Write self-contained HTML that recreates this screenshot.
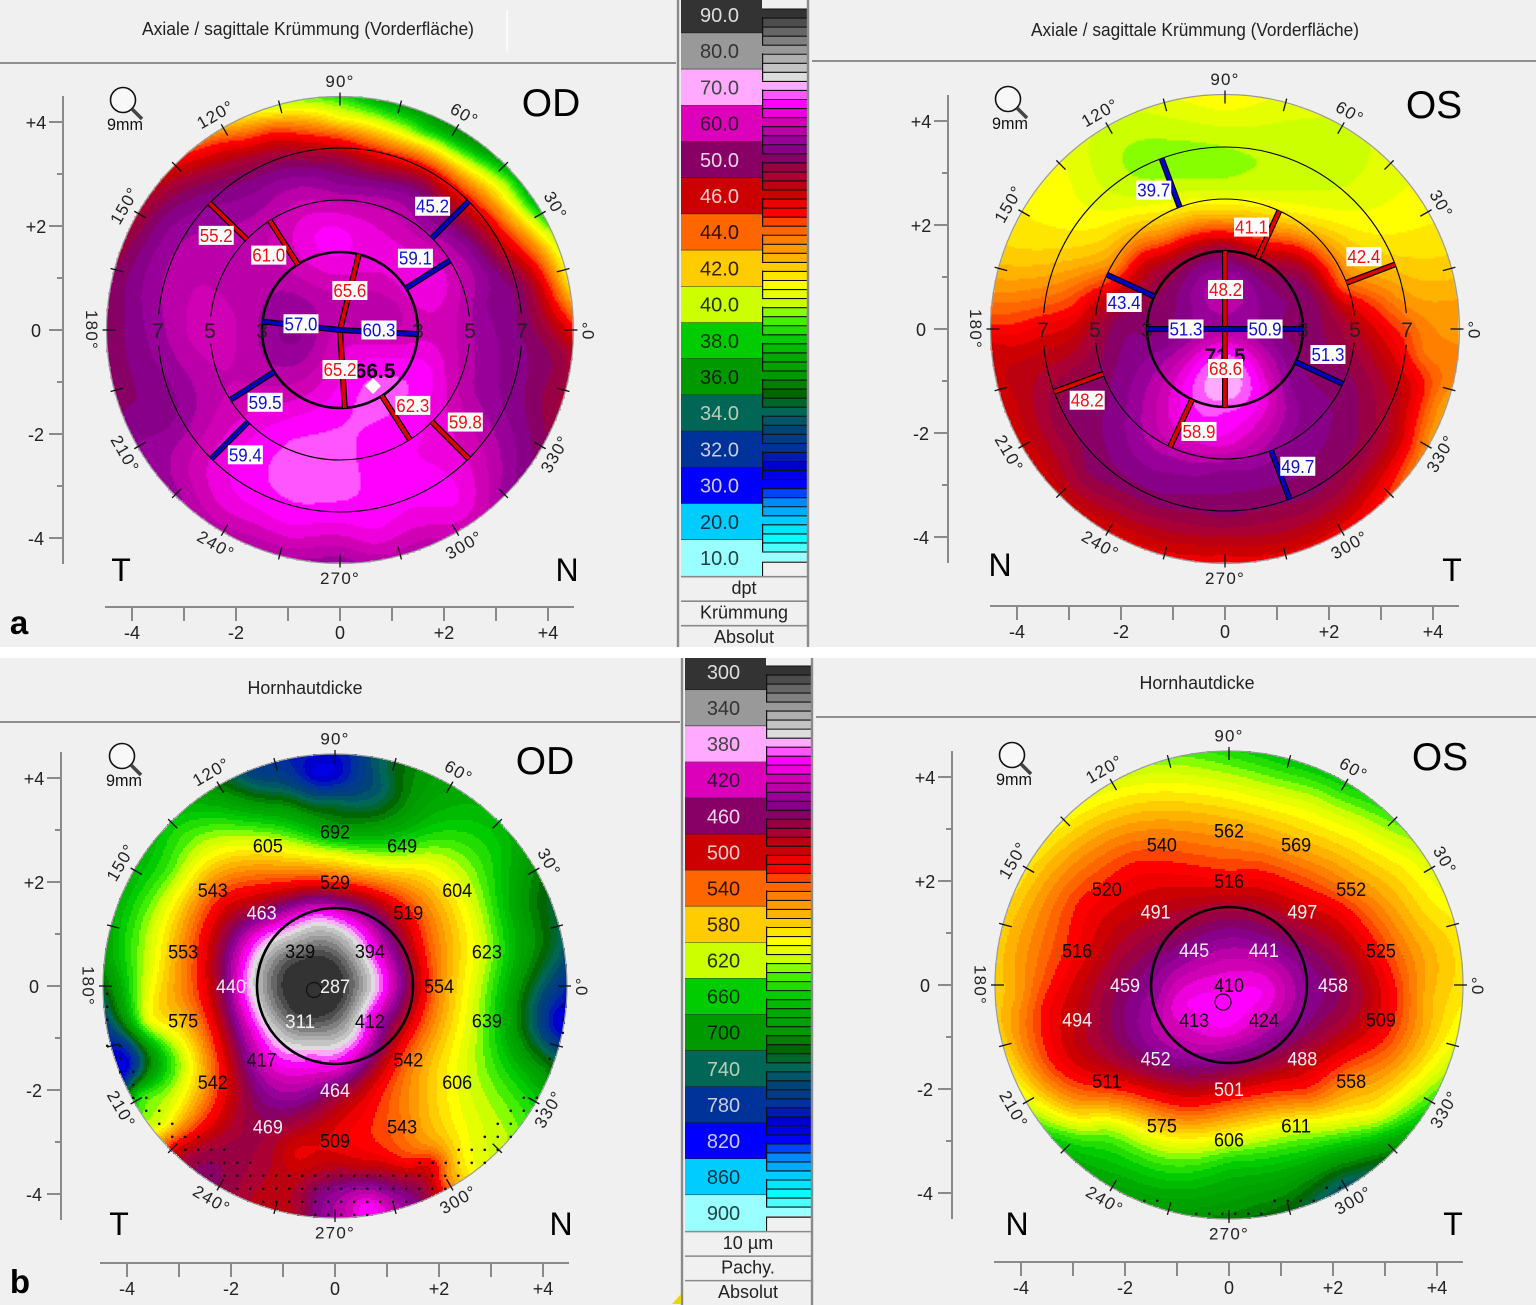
<!DOCTYPE html>
<html lang="de">
<head>
<meta charset="utf-8">
<title>Corneal topography</title>
<style>
html,body{margin:0;padding:0;background:#fff;}
body{width:1536px;height:1305px;overflow:hidden;}
svg{display:block;}
text{font-family:"Liberation Sans",sans-serif;}
</style>
</head>
<body>
<svg id="root" xmlns="http://www.w3.org/2000/svg" width="1536" height="1305" viewBox="0 0 1536 1305">
  <rect x="0" y="0" width="1536" height="1305" fill="#ffffff"/>
  <rect x="0" y="0" width="1536" height="647" fill="#f0f0f0"/>
  <rect x="0" y="658" width="1536" height="647" fill="#f0f0f0"/>
  <line x1="0" y1="63" x2="677" y2="63" stroke="#8f8f8f" stroke-width="2"/>
  <line x1="812" y1="61" x2="1536" y2="61" stroke="#8f8f8f" stroke-width="2"/>
  <line x1="0" y1="722" x2="681" y2="722" stroke="#8f8f8f" stroke-width="2"/>
  <line x1="816" y1="717" x2="1536" y2="717" stroke="#8f8f8f" stroke-width="2"/>
  <line x1="507" y1="10" x2="507" y2="52" stroke="#fafafa" stroke-width="2"/>
  <text x="308" y="35" text-anchor="middle" font-size="18" textLength="332" lengthAdjust="spacingAndGlyphs" fill="#222">Axiale / sagittale Krümmung (Vorderfläche)</text>
  <text x="1195" y="36" text-anchor="middle" font-size="18" textLength="328" lengthAdjust="spacingAndGlyphs" fill="#222">Axiale / sagittale Krümmung (Vorderfläche)</text>
  <text x="305" y="694" text-anchor="middle" font-size="18" textLength="115" lengthAdjust="spacingAndGlyphs" fill="#222">Hornhautdicke</text>
  <text x="1197" y="689" text-anchor="middle" font-size="18" textLength="115" lengthAdjust="spacingAndGlyphs" fill="#222">Hornhautdicke</text>
  <g id="maps"></g>
  <g id="legends"></g>
  <g fill="#000">
    <text x="551" y="116" text-anchor="middle" font-size="39">OD</text>
    <text x="1434" y="118" text-anchor="middle" font-size="39">OS</text>
    <text x="545" y="774" text-anchor="middle" font-size="39">OD</text>
    <text x="1440" y="770" text-anchor="middle" font-size="39">OS</text>
    <text x="121" y="581" text-anchor="middle" font-size="32">T</text>
    <text x="567" y="581" text-anchor="middle" font-size="32">N</text>
    <text x="1000" y="576" text-anchor="middle" font-size="32">N</text>
    <text x="1452" y="581" text-anchor="middle" font-size="32">T</text>
    <text x="119" y="1235" text-anchor="middle" font-size="32">T</text>
    <text x="561" y="1235" text-anchor="middle" font-size="32">N</text>
    <text x="1017" y="1235" text-anchor="middle" font-size="32">N</text>
    <text x="1453" y="1235" text-anchor="middle" font-size="32">T</text>
    <text x="19" y="634" text-anchor="middle" font-size="33" font-weight="bold">a</text>
    <text x="20" y="1293" text-anchor="middle" font-size="33" font-weight="bold">b</text>
  </g>
  <polygon points="672,1304 681,1304 681,1294" fill="#e8d800"/>
</svg>

<script>
/* ---------- shared palette and legend data ---------- */
const paletteStops = [300,340,360,370,380,390,400,410,420,430,440,450,460,470,480,490,500,510,520,530,540,560,580,600,620,630,640,660,680,700,720,740,760,780,800,820,840,860,880,900];
const paletteColors = ["#333333","#999999","#c4c4c4","#dddddd","#ffaaff","#ff55ff","#ff00ff","#ee00dd","#d000b4","#bb00aa","#990099","#880088","#880066","#990044","#aa0033","#bb0011","#cc0000","#ee0000","#ff0000","#ff4400","#ff6600","#ff9900","#ffcc00","#ffff00","#ccff00","#88ff00","#44ee00","#00cc00","#00aa00","#009900","#006600","#006655","#004477","#003399","#0000cc","#0000ff","#0088ff","#00ccff","#00ffff","#99ffff"];
const curvatureTicks = ["90.0","80.0","70.0","60.0","50.0","46.0","44.0","42.0","40.0","38.0","36.0","34.0","32.0","30.0","20.0","10.0"];
const thicknessTicks = ["300","340","380","420","460","500","540","580","620","660","700","740","780","820","860","900"];
const legendBlockColors = ["#333333","#999999","#ffaaff","#dd00bb","#880066","#cc0000","#ff6600","#ffcc00","#ccff00","#00cc00","#009900","#006655","#003399","#0000ff","#00ccff","#99ffff"];
const legendTextColors = ["#ddd","#333","#444","#301030","#e8d8e8","#eecccc","#301000","#332200","#223300","#003300","#002200","#bbccbb","#ccd","#ccd","#003344","#224444"];
const curvatureFooter = ["dpt","Krümmung","Absolut"];
const thicknessFooter = ["10 µm","Pachy.","Absolut"];

/* ---------- axis and angle data ---------- */
const axisTicksMm = [-4,-3,-2,-1,0,1,2,3,4];
const axisLabelsH = {"-4":"-4","-2":"-2","0":"0","2":"+2","4":"+4"};
const degreeAngles = [90,120,150,180,210,240,270,300,330,0,30,60];
const ringDiameters = [3,5,7];

/* ---------- pachymetry printed grid (mm positions on the cornea, shared) ---------- */
const pachyGridX = [0,-0.67,0.67,-0.67,0.67,-2,-1.41,0,1.41,2,1.41,0,-1.41,0,1.29,2.35,2.92,2.92,2.35,1.29,0,-1.29,-2.35,-2.92,-2.92,-2.35,-1.29];
const pachyGridY = [0,0.67,0.67,-0.67,-0.67,0,1.41,2,1.41,0,-1.41,-2,-1.41,2.97,2.7,1.85,0.66,-0.66,-1.85,-2.7,-2.97,-2.7,-1.85,-0.66,0.66,1.85,2.7];
const pachyOdValues = [287,329,394,311,412,440,463,529,519,554,542,464,417,692,649,604,623,639,606,543,509,469,542,575,553,543,605];
const pachyOsValues = [410,445,441,413,424,459,491,516,497,458,488,501,452,562,569,552,525,509,558,611,606,575,511,494,516,520,540];

/* ---------- extra surface readings [x mm, y mm, µm] ---------- */
const pachyOdSamples = [[-0.35,4.12,815],[-0.35,4.42,790],[0.5,4.4,770],[0.87,4.2,740],[-1,4.3,780],[0,4.09,805],[-1.51,3.99,760],[-2.15,3.71,700],[-3.11,3.13,660],[-4.07,2.04,680],[-4.33,0.56,680],[-4.33,-0.21,720],[-4.13,-1.17,795],[-4.01,-1.49,815],[-4.3,-1.35,790],[-4.1,-1.9,790],[-3.81,-2.06,650],[-3.62,-1.74,700],[-3.17,-1.49,650],[-2.85,-1.49,610],[-3.3,-2.64,615],[-3.11,-3.09,510],[-2.6,-3.41,465],[-1.83,-4.05,480],[-1.19,-3.41,485],[-0.87,-4.37,490],[-0.35,-4.05,450],[0.61,-4.24,392],[0.6,-4.4,400],[0.22,-4.05,430],[0.61,-4.05,420],[1,-4.3,420],[0.25,-4.35,425],[1.38,-4.05,450],[1.89,-3.92,490],[2.15,-3.67,560],[2.53,-3.28,600],[3.17,-2.9,620],[3.81,-2.19,660],[4.13,-1.49,720],[4.33,-0.65,815],[4.45,-0.4,800],[4.29,0.05,770],[4.13,0.76,725],[3.62,1.59,700],[3.3,2.68,670],[2.34,3.32,670],[1.38,3.96,710],[0.87,3.83,750],[0,3.45,725],[-0.87,3.51,710],[-2.15,3.38,670],[-3.62,0.44,620],[-3.62,-0.72,610],[-3.11,-1.17,625],[-3.17,2.23,640],[-2.6,0.44,520],[-2.02,1.59,505],[-0.87,1.91,510],[0,2.49,600],[1.7,2.36,605],[2.66,1.33,610],[2.53,0,600],[-0.42,0,285],[0.13,0,300],[-0.97,0,300],[-0.42,0.55,300],[-0.42,-0.55,300],[-0.03,0.39,300],[-0.81,0.39,300],[-0.03,-0.39,300],[-0.81,-0.39,300],[0.58,0,350],[-1.42,0,350],[-0.42,1,350],[-0.42,-1,350],[0.29,0.71,350],[-1.13,0.71,350],[0.29,-0.71,350],[-1.13,-0.71,350],[0.93,0,390],[-1.77,0,390],[-0.42,1.35,390],[-0.42,-1.35,390],[0.53,0.95,390],[-1.37,0.95,390],[0.53,-0.95,390],[-1.37,-0.95,390],[0,1.59,440],[1.06,0,420],[1.38,0,460],[0,-1.6,410],[-0.74,-2.13,440],[-1.7,-2.13,470],[-1.96,-2.77,480],[-2.15,-2.13,510],[-0.54,-2.77,490],[-0.74,-3.22,510],[0.42,-3.41,500],[1.38,-3.35,525],[1.7,-3.09,555],[1.89,-3.47,500],[0.61,-2.58,520],[0.74,-1.81,500],[1.7,-2.13,570],[1.7,0.76,525],[1.7,-0.85,540]];
const pachyOsSamples = [[0,4.46,650],[-1.04,4.33,630],[-2.32,3.81,610],[-3.28,3.11,600],[-4.05,2.02,590],[-4.37,0.42,575],[-4.4,-0.54,575],[-4.24,-1.51,590],[-3.86,-2.28,612],[-3.28,-2.98,660],[-2.64,-3.62,680],[-1.04,-4.33,695],[0,-4.39,705],[1.21,-4.26,720],[2.17,-3.81,745],[3.13,-3.11,700],[3.9,-2.15,640],[4.35,-1.19,610],[4.47,-0.1,590],[4.35,1.06,590],[3.9,2.15,610],[3.19,3.17,640],[2.23,3.88,660],[1.21,4.33,665],[0,3.75,605],[1.53,3.62,620],[2.49,3.04,610],[3.45,2.34,600],[3.77,1.31,585],[0,-2.47,555],[0,-3.43,660],[0,-4.07,690],[-2.32,-2.79,630],[-2.96,-2.47,580],[1.53,-3.24,660],[3.45,-2.47,640],[2.81,-2.47,600],[-4.05,-0.22,565],[-3.57,-0.42,520],[3.77,-0.22,570],[3.26,-0.22,525],[-1.81,2.28,520],[-2.83,1.57,520],[-3.35,-1.51,520],[-0.78,-2.31,520],[1.53,-2.08,530],[3,-1.06,525],[0.56,2.15,520],[2.17,1.51,520],[-0.14,-0.29,402],[-0.97,-0.35,402],[0.69,-0.16,402],[0,0.42,420],[0,0.8,440],[0,1.31,465],[0.88,-0.22,415],[1.53,0,450],[-1.36,-0.22,440],[0,-1.51,455],[0,-1.19,435],[0,-0.87,405],[-0.27,-0.74,400]];

/* ---------- curvature surface readings [x mm, y mm, dpt] ---------- */
const curvOdSamples = [[-4.17,1.41,49.5],[-3.85,2.24,48],[-3.33,3.01,46],[-2.88,3.46,44.5],[-2.24,3.9,42.5],[-1.6,4.2,41],[-0.96,4.36,40],[-3.53,2.18,50],[-2.88,2.82,49],[-2.24,3.27,47],[-2.24,3.59,45],[-1.73,3.85,43.5],[-1.28,4.2,41],[-1.28,4.04,42.5],[-1.28,3.91,44],[-1.28,3.78,45],[-1.28,3.59,46],[-1.28,3.4,48],[-1.28,3.14,50],[0,4.36,39.5],[0,4.2,40],[0,4.07,41],[0,3.91,42.5],[0,3.78,44],[0,3.62,45.2],[0,3.46,46.5],[0,3.27,49],[0,3.01,51],[0.9,4.3,37.5],[1.6,4.04,37.5],[1.6,3.78,38.5],[1.6,3.62,41],[1.6,3.4,43],[1.6,3.17,45],[1.6,2.95,47.5],[1.6,2.69,50],[2.4,3.6,37],[3.21,3.14,37],[3.21,2.82,39.5],[3.21,2.5,41],[3.21,2.18,43],[3.21,1.73,45],[3.21,1.41,47.5],[3.21,1.03,50],[3.72,2.4,38],[4.1,1.79,40],[3.94,1.79,41],[3.62,1.79,43],[3.24,1.79,45],[2.88,1.79,47.5],[2.5,1.79,50],[4.42,0.83,41.5],[4.26,0.83,43],[4,0.83,45],[3.74,0.83,47.5],[3.42,0.83,50],[4.42,0,45.5],[4.2,0,47],[3.94,0,48.5],[3.6,0,50],[4.47,-0.45,47.5],[4.29,-0.45,48.5],[0,2.76,54],[-1.6,2.44,55],[-2.56,2.12,55],[1.6,2.05,55],[2.88,0.51,53],[3.46,-0.77,52],[4.04,-1.28,49],[3.72,-2.24,51],[3.21,-3.01,55],[-4.29,0,50],[-4.04,-0.13,52],[-4.17,-1.41,51],[-3.4,-1.6,52],[-3.85,-2.18,54],[-3.53,-2.37,55],[-4.04,0.83,52],[-3.53,0,55],[-2.88,-0.13,59],[-2.24,-0.13,60],[-0.96,0.38,54],[-0.83,-0.13,53],[-1.92,1.03,57],[-1.6,0.51,57],[-2.56,1.47,58],[0,0,60],[0.06,1.15,62],[-0.19,1.79,65],[0.64,1.79,62],[1.28,1.79,60],[1.6,0.83,64],[0.32,0.26,57],[0.96,0.32,57],[1.28,-0.13,60],[0.64,-0.45,63],[1.6,-0.77,65],[0.64,-1.09,67],[-0.32,-0.77,60],[-0.64,-1.09,60],[-1.22,-1.28,60],[0,-1.73,66],[-0.96,-2.05,66],[-0.96,-2.69,67],[0,-3.01,67],[0.96,-2.37,64],[1.6,-2.69,64],[2.24,-2.05,61],[2.44,-1.09,57],[2.88,-2.37,58],[2.24,-3.33,64],[0.64,-3.97,63],[-0.96,-3.85,63],[-2.24,-3.33,62],[-2.76,-2.69,60],[0,-4.36,56],[-1.6,-4.23,56],[-3.21,-3.21,55],[1.6,-4.1,58]];
const curvOsSamples = [[0,4.35,41],[-0.96,4.22,40.5],[-2.24,3.71,40],[-3.21,2.81,41],[-3.97,1.78,41.5],[-4.29,0.82,43],[-4.42,0.18,44.5],[-4.42,-0.33,46],[-4.17,-0.14,45.2],[-0.32,3.19,39.5],[0.32,3.26,39.7],[-0.96,2.94,39.7],[-1.6,2.68,40],[-2.56,2.1,41],[-1.92,2.42,40.5],[1.6,3.06,40],[2.88,2.74,40.5],[2.12,3.26,40],[3.53,2.29,41],[4.17,1.14,42],[4.49,0.37,43],[4.49,-0.78,43.5],[4.17,-1.42,43],[3.85,-2.06,43.5],[3.4,-2.71,44.5],[3.4,-2.1,46],[3.1,-2.5,46.5],[2.24,-3.86,45.5],[0,-4.44,45.5],[-2.24,-3.99,45.5],[-3.53,-2.71,46],[-4.17,-1.42,46],[0,2.42,41],[0,2.23,42],[0,1.85,45],[0,1.65,47],[0,1.49,50],[0.6,2.1,42.5],[0.6,1.7,45],[-0.8,2,43],[-0.8,1.6,46],[1,1.9,43],[-1.2,1.75,43.5],[-1.6,1.91,42.5],[-2.05,1.21,43.5],[-1.6,1.27,46],[1.6,1.85,42.5],[1.28,1.46,46],[2.56,0.56,45],[2.24,0.82,44],[3.21,0.82,43],[3.53,0.5,43],[3.53,-0.14,44.5],[3.85,-0.46,43.5],[3.85,-1.1,44.8],[3.53,-1.1,46],[3.08,-1.1,47.5],[2.24,-1.1,50.5],[2.56,-0.33,48],[2.44,0.37,46],[1.92,0.63,48.5],[1.54,1.01,49],[-3.53,0,45.5],[-2.88,0.37,45],[-2.5,0.5,46],[-2.24,0.31,48],[-2.05,0.18,50],[-2.88,-0.46,47.5],[-3.4,-1.42,48.5],[-3.85,-1.42,47],[-3.01,-1.42,50],[0,1.14,52],[0,0.76,60],[-0.96,0.82,50],[0.96,0.82,50],[-1.22,0,50],[1.28,0,50],[0,0,55],[-0.64,-0.14,55],[0.64,-0.14,55],[0,-0.46,67],[0,-1.1,72],[0,-1.55,66],[-0.83,-1.29,64],[0.83,-1.29,62],[-0.64,-1.74,65],[0,-2.19,63],[0.64,-1.94,60],[-1.28,-1.1,58],[-1.92,-1.1,53],[1.28,-1.1,53],[1.92,-1.1,51],[-1.6,-2.06,56],[-2.24,-1.42,51],[-0.96,-2.71,54],[0,-2.71,53],[1.28,-2.38,52],[-2.24,-2.38,51],[-2.56,-2.71,50],[-1.28,-3.22,51],[0,-3.54,50],[-1,-3.7,48.5],[1,-3.7,48.5],[-3,-2.4,48.5],[1.6,-3.03,50.5],[2.44,-2.38,49.5],[2.88,-1.74,48.5],[0,-3.99,47.5],[-2.24,-3.35,48],[2.24,-3.22,48]];
const dptStops = [90,80,70,60,50,46,44,42,40,38,36,34,32,30,20,10];
const dptPositions = [300,340,380,420,460,500,540,580,620,660,700,740,780,820,860,900];

/* ---------- meridian readings: zone radii mm, angle deg, printed value, label offset mm ---------- */
const odMeridianAngles = [76,273.5,173.8,-3,122.7,32.3,212.5,302.5,135.8,45,225,315];
const odMeridianValues = ["65.6","65.2","57.0","60.3","61.0","59.1","59.5","62.3","55.2","45.2","59.4","59.8"];
const osMeridianAngles = [90,270,180,0,65.3,155.3,335,245,110.4,20.8,200.2,290.8];
const osMeridianValues = ["48.2","68.6","51.3","50.9","41.1","43.4","51.3","58.9","39.7","42.4","48.2","49.7"];
const odMeridianKinds = ["red","red","blue","blue","red","blue","blue","red","red","blue","blue","red"];
const osMeridianKinds = ["red","red","blue","blue","red","blue","blue","red","blue","red","red","blue"];
const zoneInner = [0,0,0,0,1.5,1.5,1.5,1.5,2.5,2.5,2.5,2.5];
const zoneOuter = [1.5,1.5,1.5,1.5,2.5,2.5,2.5,2.5,3.5,3.5,3.5,3.5];
const odLabelX = [0.19,0,-0.75,0.75,-1.37,1.45,-1.44,1.4,-2.38,1.78,-1.82,2.41];
const odLabelY = [0.76,-0.76,0.12,0,1.44,1.38,-1.39,-1.45,1.82,2.38,-2.4,-1.77];
const osLabelX = [0.01,0.01,-0.75,0.77,0.51,-1.94,1.98,-0.5,-1.37,2.67,-2.65,1.4];
const osLabelY = [0.76,-0.76,0,0,1.96,0.51,-0.49,-1.97,2.67,1.39,-1.37,-2.64];

/* ---------- maps ---------- */
const mapCentersX = [340,1225,335,1229];
const mapCentersY = [330,329,986,985];
const mapRadii = [233.5,234.5,232,234];
const mapSmoothing = [0.05,0.08,0.06,0.12];
const yAxisOffsets = [277,277,274,277];
const iconOffsets = [0,0,4,0];

const NS = "http://www.w3.org/2000/svg";
const PXMM = 52;
const mapsLayer = document.getElementById("maps");
const legendsLayer = document.getElementById("legends");

function make(tag, parent, attrs){
  const el = document.createElementNS(NS, tag);
  for (const k in attrs) el.setAttribute(k, attrs[k]);
  parent.appendChild(el);
  return el;
}
function hexToRgb(h){ return [parseInt(h.substr(1,2),16),parseInt(h.substr(3,2),16),parseInt(h.substr(5,2),16)]; }
function paletteColor(p){
  if (p <= paletteStops[0]) return paletteColors[0];
  for (let i=1;i<paletteStops.length;i++){
    if (p <= paletteStops[i]){
      const t=(p-paletteStops[i-1])/(paletteStops[i]-paletteStops[i-1]);
      const a=hexToRgb(paletteColors[i-1]), b=hexToRgb(paletteColors[i]);
      return "rgb("+Math.round(a[0]+(b[0]-a[0])*t)+","+Math.round(a[1]+(b[1]-a[1])*t)+","+Math.round(a[2]+(b[2]-a[2])*t)+")";
    }
  }
  return paletteColors[paletteColors.length-1];
}
function dptToPosition(d){
  if (d >= dptStops[0]) return dptPositions[0];
  for (let i=1;i<dptStops.length;i++){
    if (d >= dptStops[i]){
      const t=(dptStops[i-1]-d)/(dptStops[i-1]-dptStops[i]);
      return dptPositions[i-1]+(dptPositions[i]-dptPositions[i-1])*t;
    }
  }
  return dptPositions[dptPositions.length-1];
}

/* thin-plate surface fit through the readings */
function fitSurface(pts, smooth){
  const n=pts.length, m=n+3, A=[];
  for(let i=0;i<m;i++){ A.push(new Float64Array(m+1)); }
  for(let i=0;i<n;i++){
    for(let j=0;j<n;j++){
      const dx=pts[i][0]-pts[j][0], dy=pts[i][1]-pts[j][1], r2=dx*dx+dy*dy;
      A[i][j]= r2>0 ? 0.5*r2*Math.log(r2) : 0;
    }
    A[i][i]=smooth;
    A[i][n]=1;A[i][n+1]=pts[i][0];A[i][n+2]=pts[i][1];
    A[n][i]=1;A[n+1][i]=pts[i][0];A[n+2][i]=pts[i][1];
    A[i][m]=pts[i][2];
  }
  for(let c=0;c<m;c++){
    let p=c;
    for(let r=c+1;r<m;r++) if(Math.abs(A[r][c])>Math.abs(A[p][c])) p=r;
    const tmp=A[c];A[c]=A[p];A[p]=tmp;
    const d=A[c][c]||1e-9;
    for(let r=c+1;r<m;r++){
      const f=A[r][c]/d;
      if(f===0) continue;
      for(let k=c;k<=m;k++) A[r][k]-=f*A[c][k];
    }
  }
  const w=new Float64Array(m);
  for(let r=m-1;r>=0;r--){
    let s=A[r][m];
    for(let k=r+1;k<m;k++) s-=A[r][k]*w[k];
    w[r]=s/(A[r][r]||1e-9);
  }
  return function(x,y){
    let v=w[n]+w[n+1]*x+w[n+2]*y;
    for(let i=0;i<n;i++){
      const dx=x-pts[i][0],dy=y-pts[i][1],r2=dx*dx+dy*dy;
      if(r2>0) v+=w[i]*0.5*r2*Math.log(r2);
    }
    return v;
  };
}

function drawSurface(parent, idx, pts){
  const cx=mapCentersX[idx], cy=mapCentersY[idx], R=mapRadii[idx];
  const f=fitSurface(pts,mapSmoothing[idx]), STEP=2, runs={};
  for(let y=-R;y<R;y+=STEP){
    let start=null, band=null;
    const push=(b,x0,x1)=>{
      (runs[b]=runs[b]||[]).push("M"+(cx+x0)+" "+(cy+y)+"h"+(x1-x0)+"v"+STEP+"h"+(x0-x1)+"z");
    };
    for(let x=-R;x<=R+STEP;x+=STEP){
      const inside=(x+1)*(x+1)+(y+1)*(y+1)<=R*R;
      let b=null;
      if(inside){
        const v=f((x+1)/PXMM,-(y+1)/PXMM);
        b=Math.max(30,Math.min(90,Math.round(v/10)));
      }
      if(b!==band){
        if(band!==null) push(band,start,x);
        band=b; start=x;
      }
    }
  }
  const g=make("g",parent,{});
  
  
  Object.keys(runs).forEach(function(b){
    const path=make("path",g,{d:runs[b].join(""),fill:paletteColor(b*10),"shape-rendering":"crispEdges"});
    
    
  });
  const rim=make("circle",parent,{cx:cx,cy:cy,r:R,fill:"none",stroke:"#9a9a9a","stroke-width":1.2});
  
  
}

function drawFrame(parent, idx){
  const cx=mapCentersX[idx], cy=mapCentersY[idx], R=mapRadii[idx];
  /* rim ticks each 15 degrees */
  for(let a=0;a<360;a+=15){
    const c=Math.cos(a*Math.PI/180), s=Math.sin(a*Math.PI/180);
    const t=make("line",parent,{x1:cx+(R-9)*c,y1:cy-(R-9)*s,x2:cx+(R+4)*c,y2:cy-(R+4)*s,stroke:"#111","stroke-width":1.3});
    
    
  }
  /* degree labels */
  degreeAngles.forEach(function(a){
    const rad=a*Math.PI/180, rr=R+15;
    const x=cx+rr*Math.cos(rad), y=cy-rr*Math.sin(rad);
    let rot=90-a;
    if(a>=180 && a<360) rot=270-a;
    if(a===180) rot=90;
    if(a===0) rot=-90;
    const t=make("text",parent,{x:x,y:y,"text-anchor":"middle","dominant-baseline":"central","font-size":17,fill:"#222","letter-spacing":"1.2",transform:"rotate("+rot+" "+x+" "+y+")"});
    t.textContent=a+"°";
    
    
  });
  /* axes */
  const ax=cx-yAxisOffsets[idx], ay=cy+277;
  const v=make("line",parent,{x1:ax,y1:cy-234,x2:ax,y2:cy+234,stroke:"#8a8a8a","stroke-width":2});
  
  
  const h=make("line",parent,{x1:cx-235,y1:ay,x2:cx+234,y2:ay,stroke:"#8a8a8a","stroke-width":2});
  
  
  axisTicksMm.forEach(function(mm){
    const py=cy-mm*PXMM*1.0, px=cx+mm*PXMM*1.0;
    const major=(mm%2===0);
    const yt=make("line",parent,{x1:ax-(major?14:6),y1:py,x2:ax,y2:py,stroke:"#8a8a8a","stroke-width":2});
    
    
    const xt=make("line",parent,{x1:px,y1:ay,x2:px,y2:ay+14,stroke:"#8a8a8a","stroke-width":2});
    
    
    if(major){
      const lab=axisLabelsH[String(mm)];
      const yl=make("text",parent,{x:ax-27,y:py+7,"text-anchor":"middle","font-size":18,fill:"#222"});
      yl.textContent=lab;
      
      
      const xl=make("text",parent,{x:px,y:ay+32,"text-anchor":"middle","font-size":18,fill:"#222"});
      xl.textContent=lab;
      
      
    }
  });
  /* magnifier icon */
  const mx=cx-217+iconOffsets[idx], my=cy-230;
  const g=make("g",parent,{});
  
  
  const lens=make("circle",g,{cx:mx,cy:my,r:12.5,fill:"#f8f8f8",stroke:"#111","stroke-width":1.6});
  
  
  const handle=make("line",g,{x1:mx+9,y1:my+9,x2:mx+19,y2:my+19,stroke:"#444","stroke-width":3.5});
  
  
  const mm=make("text",g,{x:mx+2,y:my+30,"text-anchor":"middle","font-size":17,fill:"#111",textLength:36,lengthAdjust:"spacingAndGlyphs"});
  mm.textContent="9mm";
  
  
}

function drawRings(parent, idx){
  const cx=mapCentersX[idx], cy=mapCentersY[idx];
  ringDiameters.forEach(function(d){
    const r=d/2*PXMM;
    const gap=d===3?0:(d===5?6:5);
    [[gap,180-gap],[180+gap,360-gap]].forEach(function(span){
      const a0=span[0]*Math.PI/180, a1=span[1]*Math.PI/180;
      const p=make("path",parent,{d:"M"+(cx+r*Math.cos(a0))+" "+(cy-r*Math.sin(a0))+"A"+r+" "+r+" 0 0 0 "+(cx+r*Math.cos(a1))+" "+(cy-r*Math.sin(a1)),fill:"none",stroke:"#000","stroke-width":d===3?2.6:1.1});
      
      
    });
    [-1,1].forEach(function(side){
      const t=make("text",parent,{x:cx+side*r,y:cy+8,"text-anchor":"middle","font-size":21,fill:"#222"});
      t.textContent=String(d);
      
      
    });
  });
}

function drawMeridians(parent, idx, angles, values, kinds, labelX, labelY){
  const cx=mapCentersX[idx], cy=mapCentersY[idx];
  const colors={red:"#e00000",blue:"#0000c8"}, txt={red:"#ee1111",blue:"#1111cc"};
  angles.forEach(function(a,i){
    const rad=a*Math.PI/180;
    const x1=cx+zoneInner[i]*PXMM*Math.cos(rad), y1=cy-zoneInner[i]*PXMM*Math.sin(rad);
    const x2=cx+zoneOuter[i]*PXMM*Math.cos(rad), y2=cy-zoneOuter[i]*PXMM*Math.sin(rad);
    const o=make("line",parent,{x1:x1,y1:y1,x2:x2,y2:y2,stroke:"#000","stroke-width":6});
    
    
    const l=make("line",parent,{x1:x1,y1:y1,x2:x2,y2:y2,stroke:colors[kinds[i]],"stroke-width":3.6});
    
    
  });
  angles.forEach(function(a,i){
    const lx=cx+labelX[i]*PXMM, ly=cy-labelY[i]*PXMM;
    const bg=make("rect",parent,{x:lx-17.5,y:ly-9.5,width:35,height:19,fill:"#fff"});
    
    
    const t=make("text",parent,{x:lx,y:ly+6.5,"text-anchor":"middle","font-size":18,fill:txt[kinds[i]],textLength:33,lengthAdjust:"spacingAndGlyphs"});
    t.textContent=values[i];
    
    
  });
}

function drawPachyLabels(parent, idx, values){
  const cx=mapCentersX[idx], cy=mapCentersY[idx];
  values.forEach(function(v,i){
    const white=(v<320)||(v>=430&&v<505);
    const t=make("text",parent,{x:cx+pachyGridX[i]*PXMM,y:cy-pachyGridY[i]*PXMM+7,"text-anchor":"middle","font-size":19,fill:white?"#f4f0f4":"#080808",textLength:30,lengthAdjust:"spacingAndGlyphs"});
    t.textContent=String(v);
    
    
  });
}

function makeGroup(name){
  const g=make("g",mapsLayer,{});
  
  
  return g;
}

/* Map a: curvature OD */
const gA=makeGroup("curvature-map-od");
drawSurface(gA,0,curvOdSamples.map(function(p){return [p[0],p[1],dptToPosition(p[2])];}));
drawRings(gA,0);
drawFrame(gA,0);
const maxA=make("text",gA,{x:375,y:378,"text-anchor":"middle","font-size":21,"font-weight":"bold",fill:"#000"});
maxA.textContent="66.5";


drawMeridians(gA,0,odMeridianAngles,odMeridianValues,odMeridianKinds,odLabelX,odLabelY);
const diamond=make("polygon",gA,{points:"373,378 381,386 373,394 365,386",fill:"#fff"});



/* Map b: curvature OS */
const gB=makeGroup("curvature-map-os");
drawSurface(gB,1,curvOsSamples.map(function(p){return [p[0],p[1],dptToPosition(p[2])];}));
drawRings(gB,1);
drawFrame(gB,1);
const maxB=make("text",gB,{x:1225,y:363,"text-anchor":"middle","font-size":21,"font-weight":"bold",fill:"#111"});
maxB.textContent="71.5";


drawMeridians(gB,1,osMeridianAngles,osMeridianValues,osMeridianKinds,osLabelX,osLabelY);

/* Reduced-quality dot rows, [row y mm, first x mm, last x mm] on a 0.25 mm measurement raster */
const dotRowsOd = [[-2.15,-3.88,-3.63],[-2.4,-3.63,-3.38],[-2.65,-3.38,-3.13],[-2.9,-3.13,-2.63],[-3.15,-2.88,-2.13],[-3.4,-2.63,-1.63],[-3.65,-2.38,2.38],[-3.9,-1.88,2.13],[-4.15,-1.38,1.38],[-4.4,-0.38,0.63],[-2.15,3.63,3.88],[-2.4,3.38,3.88],[-2.65,3.13,3.38],[-2.9,2.88,3.38],[-3.15,2.38,3.13],[-3.4,1.63,2.88],[-0.15,-4.38,-4.38],[-0.4,-4.38,-4.38],[-0.65,-4.38,-4.38],[-1.15,-4.13,-4.38],[-1.4,-4.13,-4.13],[-1.65,-4.13,-3.88],[-1.9,-3.88,-3.88],[-0.4,4.38,4.38],[-0.65,4.38,4.38],[-0.9,4.38,4.38],[-1.4,4.13,4.13]];
const dotRowsOs = [[-3.9,1.88,2.13],[-4.15,-1.63,-1.38],[-4.15,0.88,1.63],[-4.4,-0.63,0.63]];

function drawDots(parent, idx, rows, name){
  const cx=mapCentersX[idx], cy=mapCentersY[idx];
  const g=make("g",parent,{fill:"#111"});
  
  
  rows.forEach(function(row){
    const lo=Math.min(row[1],row[2]), hi=Math.max(row[1],row[2]);
    for(let x=lo;x<=hi+0.01;x+=0.25){
      const d=make("circle",g,{cx:cx+x*PXMM,cy:cy-row[0]*PXMM,r:1.3});
      
      
    }
  });
}

/* Map c: thickness OD */
const gC=makeGroup("thickness-map-od");
drawSurface(gC,2,pachyOdSamples.concat(pachyOdValues.map(function(v,i){return [pachyGridX[i],pachyGridY[i],v];})));
drawDots(gC,2,dotRowsOd,"low-quality-dots-od");
const ringC=make("circle",gC,{cx:335,cy:986,r:78,fill:"none",stroke:"#000","stroke-width":2.6});


const apexC=make("circle",gC,{cx:314,cy:990,r:7.5,fill:"none",stroke:"#111","stroke-width":1.2});


drawFrame(gC,2);
drawPachyLabels(gC,2,pachyOdValues);

/* Map d: thickness OS */
const gD=makeGroup("thickness-map-os");
drawSurface(gD,3,pachyOsSamples.concat(pachyOsValues.map(function(v,i){return [pachyGridX[i],pachyGridY[i],v];})));
drawDots(gD,3,dotRowsOs,"low-quality-dots-os");
const ringD=make("circle",gD,{cx:1229,cy:985,r:78,fill:"none",stroke:"#000","stroke-width":2.6});


const apexD=make("circle",gD,{cx:1223,cy:1002,r:8,fill:"none",stroke:"#111","stroke-width":1.2});


drawFrame(gD,3);
drawPachyLabels(gD,3,pachyOsValues);

/* ---------- legends ---------- */
function drawLegend(x0, y0, panelTop, H, ticks, footer, name){
  const g=make("g",legendsLayer,{});
  
  
  const blockW=81, stripX=x0+blockW, stripW=45;
  const bottom=y0+H*16-3;
  const bg=make("rect",g,{x:x0-5,y:panelTop,width:blockW+stripW+10,height:647,fill:"#f0f0f0"});
  
  
  /* stripes */
  for(let k=0;k<=60;k++){
    const sy=y0+9+k*H/4;
    const s=make("rect",g,{x:stripX,y:sy,width:stripW,height:H/4,fill:paletteColor(300+k*10)});
    
    
    const b=make("line",g,{x1:stripX,y1:sy,x2:stripX+stripW,y2:sy,stroke:"#111","stroke-width":1.1});
    
    
  }
  for(let m=0;m<15;m++){
    const by=y0+17+m*H;
    const vl=make("line",g,{x1:stripX+0.5,y1:by,x2:stripX+0.5,y2:by+27.5,stroke:"#111","stroke-width":1.4});
    
    
  }
  const foot=make("rect",g,{x:stripX,y:bottom-14,width:stripW,height:14,fill:"#f0f0f0"});
  
  
  const footRule=make("path",g,{d:"M"+(stripX+0.5)+" "+bottom+"V"+(bottom-14)+"H"+(stripX+stripW),fill:"none",stroke:"#111","stroke-width":1.2});
  
  
  /* blocks */
  ticks.forEach(function(label,i){
    const ty=y0-3+i*H, top=i===0?panelTop:ty;
    const r=make("rect",g,{x:x0,y:top,width:blockW,height:ty+H-top,fill:legendBlockColors[i]});
    
    
    if(i<15){
      const l=make("line",g,{x1:x0,y1:ty+H,x2:stripX,y2:ty+H,stroke:"#111","stroke-opacity":0.75,"stroke-width":1.2});
      
      
    }
    const t=make("text",g,{x:x0+38.5,y:y0+22+i*H,"text-anchor":"middle","font-size":20,fill:legendTextColors[i]});
    t.textContent=label;
    
    
  });
  /* footer */
  footer.forEach(function(label,i){
    const fy=bottom+24.5*i;
    const l=make("line",g,{x1:x0,y1:fy+0.5,x2:stripX+stripW,y2:fy+0.5,stroke:"#8a8a8a","stroke-width":1.6});
    
    
    const t=make("text",g,{x:x0+63,y:fy+18,"text-anchor":"middle","font-size":18,fill:"#222"});
    t.textContent=label;
    
    
  });
  /* side rails */
  [x0-3,stripX+stripW+1].forEach(function(x){
    const rail=make("line",g,{x1:x,y1:panelTop,x2:x,y2:panelTop+647,stroke:"#8a8a8a","stroke-width":2.4});
    
    
  });
}
drawLegend(681,0,0,36.2,curvatureTicks,curvatureFooter,"curvature-legend");
drawLegend(685,657,658,36.07,thicknessTicks,thicknessFooter,"thickness-legend");
</script>
</body>
</html>
